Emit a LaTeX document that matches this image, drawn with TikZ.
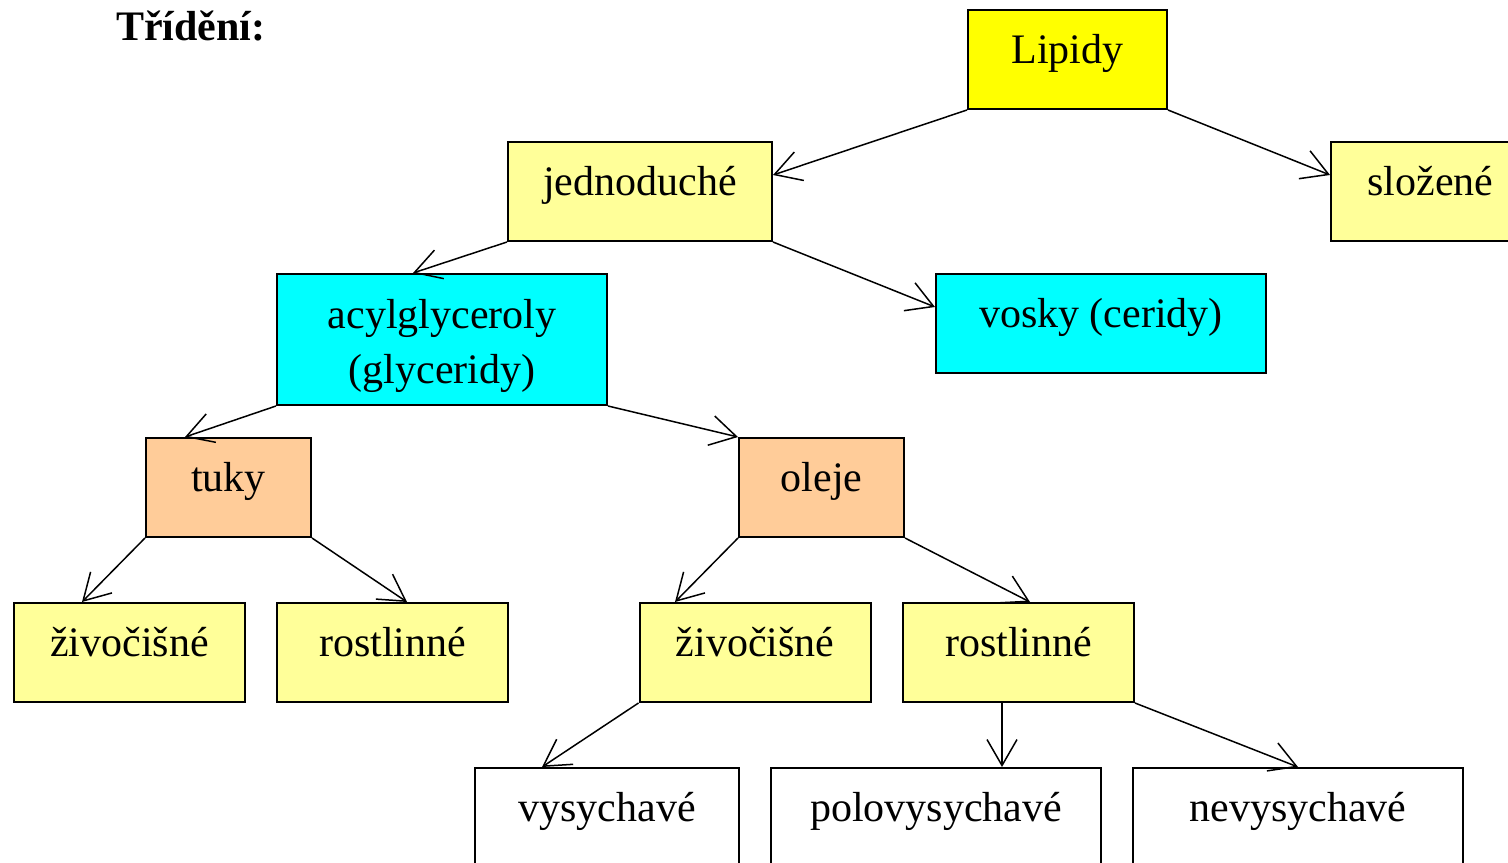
\documentclass[tikz,border=0pt]{standalone}
\usepackage{fontspec}
\setmainfont{Liberation Serif}
\usetikzlibrary{arrows.meta}
\definecolor{zluta}{HTML}{FFFF00}
\definecolor{svetlezluta}{HTML}{FFFF99}
\definecolor{azurova}{HTML}{00FFFF}
\definecolor{oranzova}{HTML}{FFCC99}
\tikzset{
	krabice/.style={draw, line width=1pt, inner sep=0pt, font=\fontsize{21}{27.5}\selectfont, text height=26.5pt, text depth=23pt},
	sipka/.style={->, line width=0.75pt},
}

\begin{document}
\begin{tikzpicture}[>={Straight Barb[length=13pt, width=15pt]}, x=0.5pt, y=-0.5pt]
	\useasboundingbox (0,0) rectangle (1508,862);
	\clip (0,0) rectangle (1508,862);
	\fill[white] (0,0) rectangle (1508,862);
	%%%	Nadpis
	\node[anchor=base west, font=\fontsize{21}{25}\selectfont\bfseries] (titulek) at (109,40) {Třídění:};
	%%%	Krabice
	\node[krabice, fill=zluta, minimum width=99.5pt] (lipidy) at (1067.5,59.5) {Lipidy};
	\node[krabice, fill=svetlezluta, minimum width=132pt] (jedno) at (640,191.5) {jednoduché};
	\node[krabice, fill=svetlezluta, minimum width=99.5pt] (slozene) at (1430.5,191.5) {složené};
	\node[krabice, fill=azurova, minimum width=165pt, align=center, text height=54.5pt, text depth=11pt] (acyl) at (442,339.5) {acylglyceroly\\(glyceridy)};
	\node[krabice, fill=azurova, minimum width=165pt] (vosky) at (1101,323.5) {vosky (ceridy)};
	\node[krabice, fill=oranzova, minimum width=82.5pt] (tuky) at (228.5,487.5) {tuky};
	\node[krabice, fill=oranzova, minimum width=82.5pt] (oleje) at (821.5,487.5) {oleje};
	\node[krabice, fill=svetlezluta, minimum width=115.5pt] (zivo1) at (129.5,652.5) {živočišné};
	\node[krabice, fill=svetlezluta, minimum width=115.5pt] (rost1) at (392.5,652.5) {rostlinné};
	\node[krabice, fill=svetlezluta, minimum width=115.5pt] (zivo2) at (755,652.5) {živočišné};
	\node[krabice, fill=svetlezluta, minimum width=115.5pt] (rost2) at (1018.5,652.5) {rostlinné};
	\node[krabice, fill=white, minimum width=132pt] (vysych) at (607,817.5) {vysychavé};
	\node[krabice, fill=white, minimum width=165pt] (polovys) at (936,817.5) {polovysychavé};
	\node[krabice, fill=white, minimum width=165pt] (nevys) at (1298,817.5) {nevysychavé};
	\coordinate (polosip) at ([xshift=33pt]polovys.north);
	%%%	Sipky
	\draw[sipka] (lipidy.south west) -- ([yshift=8.25pt]jedno.east);
	\draw[sipka] (lipidy.south east) -- ([yshift=8.25pt]slozene.west);
	\draw[sipka] (jedno.south west) -- ([xshift=-14.5pt]acyl.north);
	\draw[sipka] (jedno.south east) -- ([yshift=8.25pt]vosky.west);
	\draw[sipka] (acyl.south west) -- ([xshift=-21.75pt]tuky.north);
	\draw[sipka] (acyl.south east) -- (oleje.north west);
	\draw[sipka] (tuky.south west) -- ([xshift=-23.75pt]zivo1.north);
	\draw[sipka] (tuky.south east) -- ([xshift=7.25pt]rost1.north);
	\draw[sipka] (oleje.south west) -- ([xshift=-40pt]zivo2.north);
	\draw[sipka] (oleje.south east) -- ([xshift=5.75pt]rost2.north);
	\draw[sipka] (zivo2.south west) -- ([xshift=-32.5pt]vysych.north);
	\draw[sipka] (polosip |- rost2.south) -- (polosip);
	\draw[sipka] (rost2.south east) -- (nevys.north);
\end{tikzpicture}
\end{document}
